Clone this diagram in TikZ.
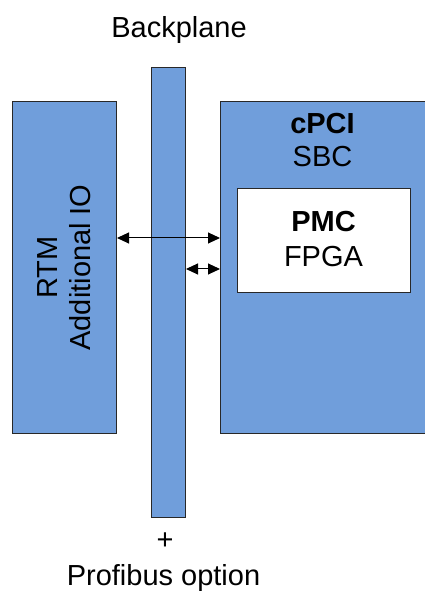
\documentclass[tikz,border=0pt]{standalone}
\usepackage{fontspec}
\setmainfont{Liberation Sans}
\usetikzlibrary{arrows.meta}
\definecolor{boxblue}{RGB}{112,158,219}
\definecolor{edgegray}{RGB}{40,40,40}
\begin{document}
\begin{tikzpicture}[x=1pt,y=1pt,
  blockbox/.style={draw=edgegray,line width=1pt,fill=boxblue,inner sep=0pt,anchor=south west},
  whitebox/.style={draw=edgegray,line width=1pt,fill=white,inner sep=0pt,anchor=south west},
  lbl/.style={inner sep=0pt,align=center,font=\fontsize{29}{33}\selectfont},
  link/.style={line width=1pt,{Triangle[length=12pt,width=11pt]}-{Triangle[length=12pt,width=11pt]}}]
\useasboundingbox (0,0) rectangle (425,591);
% blocks
\node[blockbox,minimum width=104pt,minimum height=332pt] (rtm) at (12,157) {};
\node[blockbox,minimum width=34pt,minimum height=450pt] (bp) at (151,73) {};
\node[blockbox,minimum width=210pt,minimum height=332pt] (cpci) at (220,157) {};
\node[whitebox,minimum width=173pt,minimum height=104pt] (pmc) at (237,298) {};
% texts
\node[lbl,rotate=90] (rtmtxt) at (rtm.center) {RTM\\Additional IO};
\node[lbl,anchor=base] (cpcitxt) at (322.5,424) {\textbf{cPCI}\\SBC};
\node[lbl,anchor=base,font=\fontsize{29}{35}\selectfont] (pmctxt) at (323.5,324) {\textbf{PMC}\\FPGA};
\node[lbl,anchor=base] (bptxt) at (179,553) {Backplane};
\node[lbl] (plus) at (165,50) {+};
\node[lbl,anchor=base] (profi) at (163.5,5.5) {Profibus option};
% connectors
\coordinate (a1) at (0,353);
\coordinate (a2) at (0,322);
\draw[link] (rtm.east |- a1) -- (cpci.west |- a1);
\draw[link] (bp.east |- a2) -- (cpci.west |- a2);
\end{tikzpicture}
\end{document}
